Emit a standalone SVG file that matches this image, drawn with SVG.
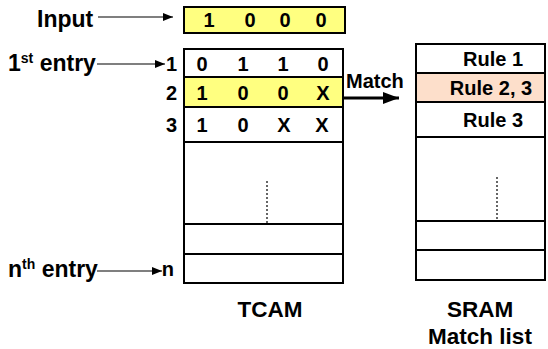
<svg xmlns="http://www.w3.org/2000/svg" width="548" height="349" viewBox="0 0 548 349">
<defs>
<style>
text{font-family:"Liberation Sans",Arial,sans-serif;font-weight:bold;fill:#000}
.big{font-size:23px}
.sup{font-size:14px}
.d{font-size:20px;text-anchor:middle}
.rl{font-size:20px;text-anchor:end}
.c{font-size:20px;text-anchor:middle}
.lab{font-size:22.5px;text-anchor:middle}
.box{stroke:#000;stroke-width:2;fill:#fff}
.ln{stroke:#000;stroke-width:2;fill:none}
.dot{stroke:#000;stroke-width:1.2;stroke-dasharray:2,2;fill:none}
.thin{stroke:#000;stroke-width:1.2;fill:none}
</style>
<marker id="ah" viewBox="0 0 10 8" refX="10" refY="4" markerWidth="10" markerHeight="8" markerUnits="userSpaceOnUse" orient="auto">
<path d="M0,0 L10,4 L0,8 Z" fill="#000"/>
</marker>
<marker id="ahb" viewBox="0 0 16 12" refX="16" refY="6" markerWidth="16" markerHeight="12" markerUnits="userSpaceOnUse" orient="auto">
<path d="M0,0 L16,6 L0,12 Z" fill="#000"/>
</marker>
</defs>
<rect width="548" height="349" fill="#fff"/>

<g id="input">
<text class="big" x="37" y="27">Input</text>
<rect x="184" y="7" width="161" height="26" fill="#FFFF80" stroke="#000" stroke-width="2"/>
<text class="d" x="209" y="27">1</text>
<text class="d" x="250" y="27">0</text>
<text class="d" x="285" y="27">0</text>
<text class="d" x="321" y="27">0</text>
</g>

<g id="first-entry-label">
<text class="big" x="8" y="71">1<tspan class="sup" dy="-8">st</tspan><tspan dy="8"> entry</tspan></text>
</g>
<g id="nth-entry-label">
<text class="big" x="8" y="277">n<tspan class="sup" dy="-8">th</tspan><tspan dy="8"> entry</tspan></text>
</g>

<g id="tcam">
<rect class="box" x="184" y="49" width="159" height="234"/>
<rect x="184" y="77" width="159" height="30" fill="#FFFF80" stroke="#000" stroke-width="2"/>
<line class="ln" x1="184" y1="142" x2="343" y2="142"/>
<line class="ln" x1="184" y1="224" x2="343" y2="224"/>
<line class="ln" x1="184" y1="254" x2="343" y2="254"/>
<line class="dot" x1="267" y1="181" x2="267" y2="224"/>
<text class="rl" x="177" y="71">1</text>
<text class="rl" x="177" y="100">2</text>
<text class="rl" x="177" y="132">3</text>
<text class="rl" x="174" y="276">n</text>
<text class="d" x="202" y="71">0</text>
<text class="d" x="243" y="71">1</text>
<text class="d" x="283" y="71">1</text>
<text class="d" x="323" y="71">0</text>
<text class="d" x="202" y="100">1</text>
<text class="d" x="243" y="100">0</text>
<text class="d" x="283" y="100">0</text>
<text class="d" x="323" y="100">X</text>
<text class="d" x="202" y="132">1</text>
<text class="d" x="243" y="132">0</text>
<text class="d" x="284" y="132">X</text>
<text class="d" x="322" y="132">X</text>
<text class="lab" x="270" y="317">TCAM</text>
</g>

<g id="sram">
<rect class="box" x="416" y="44" width="129" height="236"/>
<rect x="416" y="73" width="129" height="29" fill="#FDDFCB" stroke="#000" stroke-width="2"/>
<line class="ln" x1="416" y1="137" x2="545" y2="137"/>
<line class="ln" x1="416" y1="221" x2="545" y2="221"/>
<line class="ln" x1="416" y1="250" x2="545" y2="250"/>
<line class="dot" x1="497" y1="177" x2="497" y2="221"/>
<text class="c" x="493" y="66">Rule 1</text>
<text class="c" x="491" y="95">Rule 2, 3</text>
<text class="c" x="493" y="127">Rule 3</text>
<text class="lab" x="480" y="317">SRAM</text>
<text class="lab" x="480" y="344">Match list</text>
</g>

<g id="connectors">
<line class="thin" x1="98" y1="17" x2="173" y2="17" marker-end="url(#ah)"/>
<line class="thin" x1="97" y1="64" x2="165" y2="64" marker-end="url(#ah)"/>
<line class="thin" x1="97" y1="271" x2="162" y2="271" marker-end="url(#ah)"/>
<line x1="343" y1="98" x2="399" y2="98" stroke="#000" stroke-width="3" marker-end="url(#ahb)"/>
<text x="346" y="88" font-size="20">Match</text>
</g>
</svg>
